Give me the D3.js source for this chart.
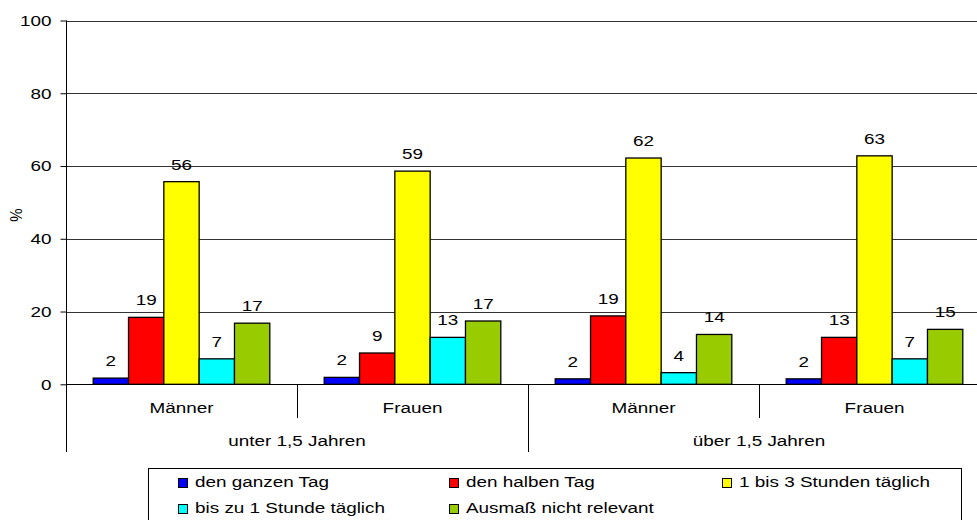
<!DOCTYPE html>
<html>
<head>
<meta charset="utf-8">
<title>Betreuung</title>
<script src="https://cdn.jsdelivr.net/npm/d3@7"></script>
<style>
  body { margin: 0; background: #fff; }
  svg { font-family: "Liberation Sans", Arial, sans-serif; font-size: 15px; }
</style>
</head>
<body>
<svg width="977" height="520"></svg>
<script>
var groups = ["unter 1,5 Jahren", "über 1,5 Jahren"];
var subcats = ["Männer", "Frauen"];
var series = ["den ganzen Tag", "den halben Tag", "1 bis 3 Stunden täglich", "bis zu 1 Stunde täglich", "Ausmaß nicht relevant"];
var colors = ["#0000ff", "#ff0000", "#ffff00", "#00ffff", "#99cc00"];
// bar heights per column (unter/Männer, unter/Frauen, über/Männer, über/Frauen)
var ganzerTag = [1.7, 1.9, 1.5, 1.5];
var halberTag = [18.4, 8.6, 18.8, 12.9];
var stunden13 = [55.7, 58.6, 62.2, 62.8];
var bisStunde = [7.0, 12.9, 3.2, 7.0];
var nichtRel = [16.8, 17.4, 13.7, 15.1];
// printed labels
var labGanzer = [2, 2, 2, 2];
var labHalber = [19, 9, 19, 13];
var lab13 = [56, 59, 62, 63];
var labBis = [7, 13, 4, 7];
var labNicht = [17, 17, 14, 15];
var yTicks = [0, 20, 40, 60, 80, 100];

var values = [ganzerTag, halberTag, stunden13, bisStunde, nichtRel];
var labels = [labGanzer, labHalber, lab13, labBis, labNicht];

var svg = d3.select("svg");
var left = 66, plotTop = 20.5, plotBottom = 384.3, colW = 231;
var sx = 1.26; // the original text is drawn wide

function place(sel, fx, fy) {
  return sel.attr("transform", function(d, i) {
    return "translate(" + fx(d, i) + "," + fy(d, i) + ") scale(" + sx + ",1)";
  });
}

var cols = [];
groups.forEach(function(g, gi) {
  subcats.forEach(function(s, si) { cols.push({group: g, gi: gi, sub: s, idx: gi * 2 + si}); });
});

var x0 = d3.scaleBand().domain(cols.map(function(c) { return c.idx; }))
  .range([left, left + colW * cols.length]).paddingInner(0).paddingOuter(0);
var x1 = d3.scaleBand().domain(series).range([0, colW]).paddingOuter(0.77).paddingInner(0);
var y = d3.scaleLinear().domain([0, 100]).range([plotBottom, plotTop]);

// gridlines
svg.append("g").selectAll("line").data(yTicks.slice(1)).enter().append("line")
  .attr("x1", left).attr("x2", left + colW * 4)
  .attr("y1", function(d) { return Math.round(y(d)) + 0.5; })
  .attr("y2", function(d) { return Math.round(y(d)) + 0.5; })
  .attr("stroke", "#333").attr("stroke-width", 1);

// y axis
var yAxis = d3.axisLeft(y).tickValues(yTicks).tickSize(6).tickPadding(8);
var ya = svg.append("g").attr("transform", "translate(" + (left + 0.5) + ",0)").call(yAxis);
ya.select(".domain").remove();
ya.selectAll(".tick line").attr("stroke", "#000");
ya.selectAll("text").attr("font-size", 15).attr("font-family", "Liberation Sans, Arial, sans-serif")
  .attr("fill", "#000").attr("x", -15 / sx).attr("transform", "scale(" + sx + ",1)");
svg.append("line").attr("x1", left + 0.5).attr("x2", left + 0.5).attr("y1", plotTop).attr("y2", 452).attr("stroke", "#000");

svg.append("text").attr("transform", "translate(22,215) rotate(-90) scale(1,1.15)")
  .attr("text-anchor", "middle").text("%");

// bars
series.forEach(function(s, k) {
  var g = svg.append("g");
  g.selectAll("rect").data(cols).enter().append("rect")
    .attr("x", function(c) { return x0(c.idx) + x1(s); })
    .attr("width", x1.bandwidth())
    .attr("y", function(c) { return y(values[k][c.idx]); })
    .attr("height", function(c) { return y(0) - y(values[k][c.idx]); })
    .attr("fill", colors[k]).attr("stroke", "#000").attr("stroke-width", 1.3);
  place(g.selectAll("text").data(cols).enter().append("text"),
    function(c) { return x0(c.idx) + x1(s) + x1.bandwidth() / 2; },
    function(c) { return y(values[k][c.idx]) - 12; })
    .attr("text-anchor", "middle").text(function(c) { return labels[k][c.idx]; });
});

// x axis
svg.append("line").attr("x1", left).attr("x2", left + colW * 4)
  .attr("y1", Math.round(plotBottom) + 0.5).attr("y2", Math.round(plotBottom) + 0.5).attr("stroke", "#000");
svg.append("g").selectAll("line").data(cols.slice(1)).enter().append("line")
  .attr("x1", function(c) { return x0(c.idx) + 0.5; })
  .attr("x2", function(c) { return x0(c.idx) + 0.5; })
  .attr("y1", plotBottom).attr("y2", function(c) { return c.idx % 2 === 0 ? 452 : 418; })
  .attr("stroke", "#000");
place(svg.append("g").selectAll("text").data(cols).enter().append("text"),
  function(c) { return x0(c.idx) + colW / 2; }, function() { return 413; })
  .attr("text-anchor", "middle").text(function(c) { return c.sub; });
place(svg.append("g").selectAll("text").data(groups).enter().append("text"),
  function(g, i) { return left + colW * (2 * i + 1); }, function() { return 446; })
  .attr("text-anchor", "middle").text(function(g) { return g; });

// legend
svg.append("rect").attr("x", 148.5).attr("y", 468.5).attr("width", 813).attr("height", 60)
  .attr("fill", "#fff").attr("stroke", "#000");
var legPos = [[178, 487], [449, 487], [722, 487], [178, 513], [449, 513]];
var lg = svg.append("g").selectAll("g").data(series).enter().append("g");
lg.append("rect")
  .attr("x", function(s, k) { return legPos[k][0] + 0.5; })
  .attr("y", function(s, k) { return legPos[k][1] - 8.5; })
  .attr("width", 9).attr("height", 9)
  .attr("fill", function(s, k) { return colors[k]; }).attr("stroke", "#000");
place(lg.append("text"), function(s, k) { return legPos[k][0] + 17; }, function(s, k) { return legPos[k][1]; })
  .text(function(s) { return s; });
</script>
</body>
</html>
